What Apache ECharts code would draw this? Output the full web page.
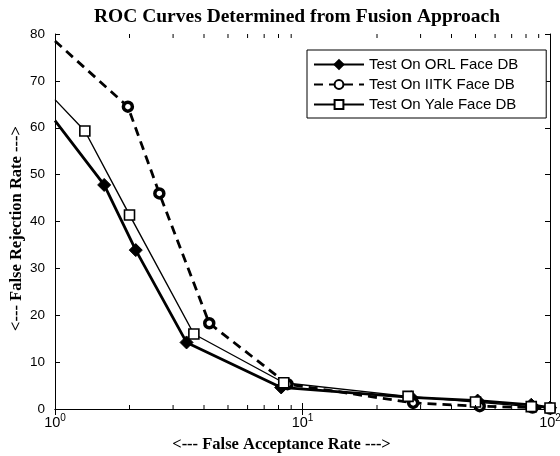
<!DOCTYPE html>
<html><head><meta charset="utf-8">
<script src="https://cdn.jsdelivr.net/npm/echarts@6/dist/echarts.min.js"></script>
<style>html,body{margin:0;padding:0;background:#fff}#c{width:560px;height:456px}</style>
</head><body><div id="c"></div>
<script>
const titleText = 'ROC Curves Determined from Fusion Approach';
const xName = '<--- False Acceptance Rate --->';
const yName = '<--- False Rejection Rate --->';
const seriesNames = ['Test On ORL Face DB', 'Test On IITK Face DB', 'Test On Yale Face DB'];
const orlX = [1, 1.58, 2.12, 3.4, 8.2, 27.5, 51, 84, 100];
const orlY = [61.5, 47.8, 33.9, 14.2, 4.6, 2.5, 1.8, 0.9, 0.3];
const iitkX = [1, 1.97, 2.64, 4.2, 8.7, 28, 52, 85, 100];
const iitkY = [78.5, 64.5, 46.0, 18.3, 5.3, 1.3, 0.6, 0.3, 0.1];
const yaleX = [1, 1.32, 2.0, 3.64, 8.4, 26.7, 50, 84, 100];
const yaleY = [66, 59.3, 41.4, 16.0, 5.6, 2.7, 1.5, 0.5, 0.2];
const xMinorTicks = [2, 3, 4, 5, 6, 7, 8, 9, 20, 30, 40, 50, 60, 70, 80, 90];

function pts(xs, ys) {
  return xs.map((x, i) => i === 0 ? { value: [x, ys[i]], symbol: 'none' } : [x, ys[i]]);
}
const chart = echarts.init(document.getElementById('c'));
const sans = 'Liberation Sans, Arial, sans-serif';
const serif = 'Liberation Serif, Times New Roman, serif';
const axisCommon = {
  axisLine: { show: true, lineStyle: { color: '#000', width: 1 } },
  splitLine: { show: false },
};
chart.setOption({
  animation: false,
  backgroundColor: '#fff',
  title: {
    text: titleText, left: 297, top: 7, padding: 0, textAlign: 'center',
    textStyle: { fontFamily: serif, fontWeight: 'bold', fontSize: 19.5, color: '#000' }
  },
  grid: { left: 55, right: 10, top: 34, bottom: 47, show: false, containLabel: false, outerBoundsMode: 'none' },
  legend: {
    orient: 'vertical', left: 307, top: 50,
    borderColor: '#000', borderWidth: 1, borderRadius: 0, backgroundColor: '#fff',
    padding: [7, 28, 6, 6], itemWidth: 50, itemHeight: 11, itemGap: 5,
    textStyle: { fontFamily: sans, fontSize: 15, color: '#000' },
    data: seriesNames
  },
  xAxis: [{
    type: 'log', logBase: 10, min: 1, max: 100, position: 'bottom',
    ...axisCommon,
    axisTick: { show: true, inside: true, length: 6, lineStyle: { color: '#000' } },
    axisLabel: {
      margin: 4, color: '#000', fontSize: 14, fontFamily: sans,
      formatter: v => '{b|10}{s|' + Math.round(Math.log10(v)) + '}',
      rich: {
        b: { fontFamily: sans, fontSize: 14.5, color: '#000' },
        s: { fontFamily: sans, fontSize: 10, color: '#000', padding: [0, 0, 10, 0] }
      }
    },
    name: xName, nameLocation: 'middle', nameGap: 27, nameMoveOverlap: false,
    nameTextStyle: { fontFamily: serif, fontWeight: 'bold', fontSize: 16.5, color: '#000', padding: [0, 42, 0, 0] }
  }, {
    type: 'log', logBase: 10, min: 1, max: 100, position: 'top',
    ...axisCommon,
    axisTick: { show: true, inside: true, length: 6, lineStyle: { color: '#000' } },
    axisLabel: { show: false }
  }],
  yAxis: [{
    type: 'value', min: 0, max: 80, interval: 10, position: 'left',
    ...axisCommon,
    axisTick: { show: true, inside: true, length: 5, lineStyle: { color: '#000' } },
    axisLabel: { margin: 10, fontFamily: sans, fontSize: 13.5, color: '#000' },
    name: yName, nameLocation: 'middle', nameGap: 30, nameRotate: 90, nameMoveOverlap: false,
    nameTextStyle: { fontFamily: serif, fontWeight: 'bold', fontSize: 16.5, color: '#000', padding: [0, 14, 0, 0] }
  }, {
    type: 'value', min: 0, max: 80, interval: 10, position: 'right',
    ...axisCommon,
    axisTick: { show: true, inside: true, length: 5, lineStyle: { color: '#000' } },
    axisLabel: { show: false }
  }],
  series: [{
    name: seriesNames[0], type: 'line', data: pts(orlX, orlY), clip: false,
    symbol: 'diamond', symbolSize: 13,
    lineStyle: { color: '#000', width: 2.8 },
    itemStyle: { color: '#000', borderColor: '#000', borderWidth: 1 }
  }, {
    name: seriesNames[1], type: 'line', data: pts(iitkX, iitkY), clip: false,
    symbol: 'circle', symbolSize: 9,
    lineStyle: { color: '#000', width: 2.8, type: [9, 6] },
    itemStyle: { color: '#fff', borderColor: '#000', borderWidth: 3.5 }
  }, {
    name: seriesNames[2], type: 'line', data: pts(yaleX, yaleY), clip: false,
    symbol: 'rect', symbolSize: 10,
    lineStyle: { color: '#000', width: 1.4 },
    itemStyle: { color: '#fff', borderColor: '#000', borderWidth: 1.6 }
  }]
});

// minor ticks for log axis (positions from the library's scale)
const g = [];
xMinorTicks.forEach(v => {
  const px = chart.convertToPixel({ xAxisIndex: 0 }, v);
  const yb = chart.convertToPixel({ yAxisIndex: 0 }, 0);
  const yt = chart.convertToPixel({ yAxisIndex: 0 }, 80);
  g.push({ type: 'line', shape: { x1: px, y1: yb, x2: px, y2: yb - 4 }, style: { stroke: '#000', lineWidth: 1 }, z: 10 });
  g.push({ type: 'line', shape: { x1: px, y1: yt, x2: px, y2: yt + 4 }, style: { stroke: '#000', lineWidth: 1 }, z: 10 });
});
chart.setOption({ graphic: g });
</script>
</body></html>
